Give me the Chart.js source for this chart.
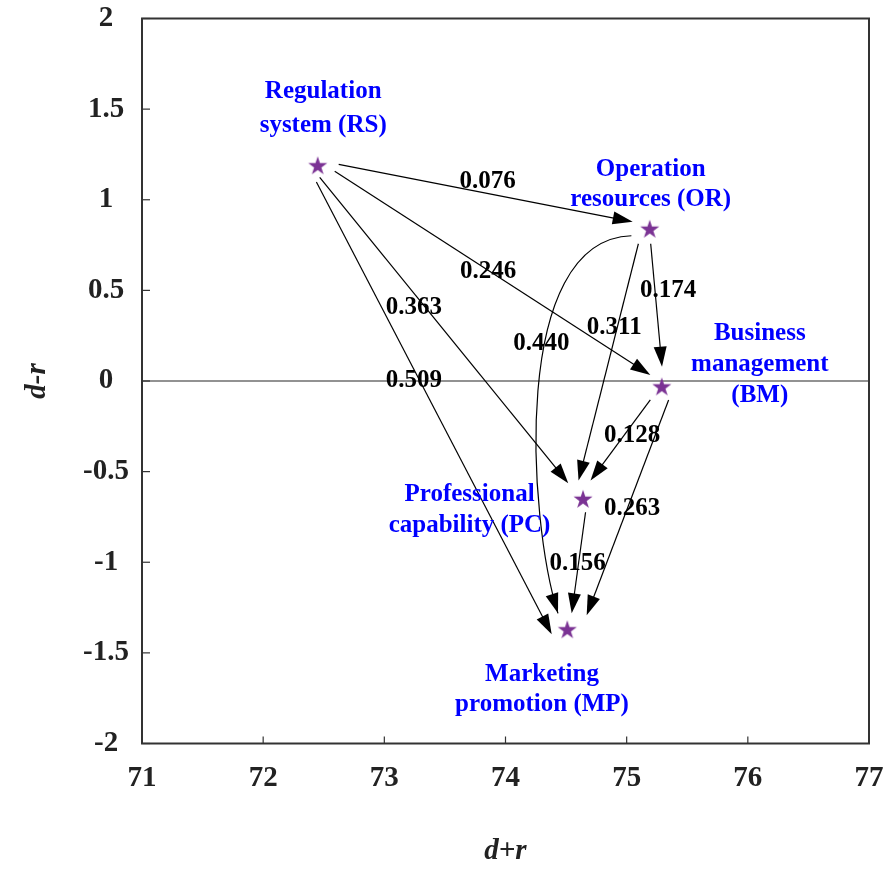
<!DOCTYPE html>
<html>
<head>
<meta charset="utf-8">
<script src="https://cdn.jsdelivr.net/npm/chart.js@4/dist/chart.umd.min.js"></script>
<style>
  html, body { margin: 0; padding: 0; background: #ffffff; }
  #wrap { width: 892px; height: 871px; }
</style>
</head>
<body>
<div id="wrap"><canvas id="c" width="892" height="871"></canvas></div>
<script>
// Factors: prominence (d+r) against relation (d-r)
const factorCodes = ['RS', 'OR', 'BM', 'PC', 'MP'];
const factorNames = [
  ['Regulation', 'system (RS)'],
  ['Operation', 'resources (OR)'],
  ['Business', 'management', '(BM)'],
  ['Professional', 'capability (PC)'],
  ['Marketing', 'promotion (MP)']
];
const prominence = [72.45, 75.19, 75.29, 74.64, 74.51];   // d+r
const relation   = [1.19, 0.84, -0.03, -0.65, -1.37];     // d-r

// Directed influences between factors and their strengths
const linkFrom   = ['RS', 'RS', 'RS', 'RS', 'OR', 'OR', 'OR', 'BM', 'BM', 'PC'];
const linkTo     = ['OR', 'BM', 'PC', 'MP', 'BM', 'PC', 'MP', 'PC', 'MP', 'MP'];
const linkWeight = [0.076, 0.246, 0.363, 0.509, 0.174, 0.311, 0.440, 0.128, 0.263, 0.156];

// Axis ticks
const xTicks = [71, 72, 73, 74, 75, 76, 77];
const yTicks = [2, 1.5, 1, 0.5, 0, -0.5, -1, -1.5, -2];

// ---- drawing layout (pixel offsets relative to the stars) ----
// s / e: where an arrow leaves its source star / where its tip sits next to the target
// t, d: position of the value label along the arrow, plus a nudge
// c1, c2: bezier controls for the curved arrow (relative to source / target)
const linkLayout = [
  { s: [21, -1],    e: [-17, -7],     t: 0.507, d: [0, -12] },
  { s: [17, 6],     e: [-11.5, -11.5], t: 0.486, d: [0, 1] },
  { s: [2, 12],     e: [-14.8, -15.6], t: 0.427, d: [-12, 0] },
  { s: [-1.3, 16.7], e: [-15.6, 5],    t: 0.44,  d: [-6, 0] },
  { s: [1, 15],     e: [0.2, -19.8],  t: 0.381, d: [13, 0] },
  { s: [-11.3, 15], e: [-4.5, -18.3], t: 0.354, d: [-3, 0] },
  { s: [-18.3, 7],  e: [-9.3, -16],   t: 0.40,  d: [-3, 0], c1: [-140, 11], c2: [-39, -110] },
  { s: [-11.5, 13.5], e: [7.5, -18.3], t: 0.4475, d: [8.5, 0] },
  { s: [6.8, 13.5], e: [19.4, -14],   t: 0.506, d: [5, 0] },
  { s: [2.5, 13.4], e: [4.4, -16],    t: 0.504, d: [-1, 0] }
];
const nameLayout = [
  { dx: 5.5,   dy: -67,   gap: 34 },
  { dx: 1,     dy: -53,   gap: 30 },
  { dx: 98,    dy: -46.5, gap: 30.8 },
  { dx: -113.5, dy: 2.4,  gap: 31 },
  { dx: -25.3, dy: 51.7,  gap: 30 }
];

const SERIF = "'Liberation Serif', 'Times New Roman', serif";
const STAR_COLOR = '#7b3394';

// Filled five-pointed star used as the point marker
function makeStar(R, color) {
  const r = R * 0.382;
  const size = Math.ceil(R * 2) + 2;
  const cv = document.createElement('canvas');
  cv.width = size; cv.height = size;
  const g = cv.getContext('2d');
  g.translate(size / 2, size / 2 + R * 0.095);
  g.beginPath();
  for (let k = 0; k < 10; k++) {
    const rad = k % 2 === 0 ? R : r;
    const a = -Math.PI / 2 + k * Math.PI / 5;
    const px = rad * Math.cos(a), py = rad * Math.sin(a);
    if (k === 0) g.moveTo(px, py); else g.lineTo(px, py);
  }
  g.closePath();
  g.fillStyle = color;
  g.fill();
  return cv;
}
const starImg = makeStar(10, STAR_COLOR);

function arrowHead(ctx, tx, ty, ang, len, half) {
  const bx = tx - len * Math.cos(ang), by = ty - len * Math.sin(ang);
  const nx = -Math.sin(ang), ny = Math.cos(ang);
  ctx.beginPath();
  ctx.moveTo(tx, ty);
  ctx.lineTo(bx + nx * half, by + ny * half);
  ctx.lineTo(bx - nx * half, by - ny * half);
  ctx.closePath();
  ctx.fill();
}

function nodePixel(chart, code) {
  const i = factorCodes.indexOf(code);
  return [chart.scales.x.getPixelForValue(prominence[i]), chart.scales.y.getPixelForValue(relation[i])];
}

const diagramPlugin = {
  id: 'diagram',
  beforeDatasetsDraw(chart) {
    const ctx = chart.ctx;
    const { left, right, top, bottom } = chart.chartArea;
    const xs = chart.scales.x, ys = chart.scales.y;
    ctx.save();
    // zero line
    ctx.strokeStyle = '#6e6e6e';
    ctx.lineWidth = 1.6;
    const y0 = ys.getPixelForValue(0);
    ctx.beginPath(); ctx.moveTo(left, y0); ctx.lineTo(right, y0); ctx.stroke();
    // frame
    ctx.strokeStyle = '#333333';
    ctx.lineWidth = 2;
    ctx.strokeRect(left, top, right - left, bottom - top);
    // inward tick marks
    ctx.lineWidth = 1.2;
    xTicks.forEach(v => {
      const px = xs.getPixelForValue(v);
      ctx.beginPath(); ctx.moveTo(px, bottom); ctx.lineTo(px, bottom - 7); ctx.stroke();
    });
    yTicks.forEach(v => {
      const py = ys.getPixelForValue(v);
      ctx.beginPath(); ctx.moveTo(left, py); ctx.lineTo(left + 8, py); ctx.stroke();
    });

    // arrows
    ctx.strokeStyle = '#000000';
    ctx.fillStyle = '#000000';
    ctx.lineWidth = 1.2;
    const HL = 20, HW = 6.5;
    linkFrom.forEach((from, k) => {
      const L = linkLayout[k];
      const [sx0, sy0] = nodePixel(chart, from);
      const [tx0, ty0] = nodePixel(chart, linkTo[k]);
      const sx = sx0 + L.s[0], sy = sy0 + L.s[1];
      const ex = tx0 + L.e[0], ey = ty0 + L.e[1];
      if (L.c1) {
        const c1x = sx0 + L.c1[0], c1y = sy0 + L.c1[1];
        const c2x = tx0 + L.c2[0], c2y = ty0 + L.c2[1];
        ctx.beginPath();
        ctx.moveTo(sx, sy);
        ctx.bezierCurveTo(c1x, c1y, c2x, c2y, ex, ey);
        ctx.stroke();
        arrowHead(ctx, ex, ey, Math.atan2(ey - c2y, ex - c2x), HL, HW);
      } else {
        const ang = Math.atan2(ey - sy, ex - sx);
        ctx.beginPath();
        ctx.moveTo(sx, sy);
        ctx.lineTo(ex - (HL - 2) * Math.cos(ang), ey - (HL - 2) * Math.sin(ang));
        ctx.stroke();
        arrowHead(ctx, ex, ey, ang, HL, HW);
      }
    });
    ctx.restore();
  },
  afterDatasetsDraw(chart) {
    const ctx = chart.ctx;
    ctx.save();
    // influence values
    ctx.fillStyle = '#000000';
    ctx.font = 'bold 25px ' + SERIF;
    ctx.textAlign = 'center';
    ctx.textBaseline = 'middle';
    linkFrom.forEach((from, k) => {
      const L = linkLayout[k];
      const [sx0, sy0] = nodePixel(chart, from);
      const [tx0, ty0] = nodePixel(chart, linkTo[k]);
      const sx = sx0 + L.s[0], sy = sy0 + L.s[1];
      const ex = tx0 + L.e[0], ey = ty0 + L.e[1];
      let px, py;
      const t = L.t;
      if (L.c1) {
        const c1x = sx0 + L.c1[0], c1y = sy0 + L.c1[1];
        const c2x = tx0 + L.c2[0], c2y = ty0 + L.c2[1];
        const a = (1 - t) ** 3, b = 3 * (1 - t) ** 2 * t, c = 3 * (1 - t) * t * t, d = t ** 3;
        px = a * sx + b * c1x + c * c2x + d * ex;
        py = a * sy + b * c1y + c * c2y + d * ey;
      } else {
        px = sx + t * (ex - sx);
        py = sy + t * (ey - sy);
      }
      ctx.fillText(linkWeight[k].toFixed(3), px + L.d[0], py + L.d[1]);
    });
    // factor names
    ctx.fillStyle = '#0000ff';
    ctx.textBaseline = 'alphabetic';
    factorCodes.forEach((code, i) => {
      const [nx, ny] = nodePixel(chart, code);
      const N = nameLayout[i];
      factorNames[i].forEach((line, j) => {
        ctx.fillText(line, nx + N.dx, ny + N.dy + j * N.gap);
      });
    });
    ctx.restore();
  }
};

const tickFont = { family: SERIF, size: 29, weight: 'bold' };
const titleFont = { family: SERIF, size: 29, weight: 'bold', style: 'italic' };

new Chart(document.getElementById('c').getContext('2d'), {
  type: 'scatter',
  data: {
    datasets: [{
      data: factorCodes.map((c, i) => ({ x: prominence[i], y: relation[i] })),
      pointStyle: starImg,
      pointRadius: 10,
      pointHoverRadius: 10
    }]
  },
  options: {
    responsive: false,
    animation: false,
    devicePixelRatio: 1,
    events: [],
    layout: { padding: { top: 18.5, right: 23, left: 0, bottom: 0 } },
    plugins: { legend: { display: false }, tooltip: { enabled: false } },
    scales: {
      x: {
        type: 'linear',
        min: xTicks[0], max: xTicks[xTicks.length - 1],
        afterBuildTicks: s => { s.ticks = xTicks.map(v => ({ value: v })); },
        afterFit: s => { s.height = 127.5; s.paddingLeft = 0; s.paddingRight = 0; },
        grid: { display: false, drawTicks: false },
        border: { display: false },
        ticks: { padding: 18, font: tickFont, color: '#222222', maxRotation: 0, autoSkip: false, callback: v => String(v) },
        title: { display: true, text: 'd+r', font: titleFont, color: '#222222', padding: { top: 0, bottom: 2 } }
      },
      y: {
        type: 'linear',
        min: yTicks[yTicks.length - 1], max: yTicks[0],
        afterBuildTicks: s => { s.ticks = yTicks.slice().reverse().map(v => ({ value: v })); },
        afterFit: s => { s.width = 142; s.paddingTop = 0; s.paddingBottom = 0; },
        grid: { display: false, drawTicks: false },
        border: { display: false },
        ticks: { padding: 13, crossAlign: 'center', font: tickFont, color: '#222222', autoSkip: false, callback: v => String(v) },
        title: { display: true, text: 'd-r', font: titleFont, color: '#222222', padding: { top: 20, bottom: 0 } }
      }
    }
  },
  plugins: [diagramPlugin]
});
</script>
</body>
</html>
